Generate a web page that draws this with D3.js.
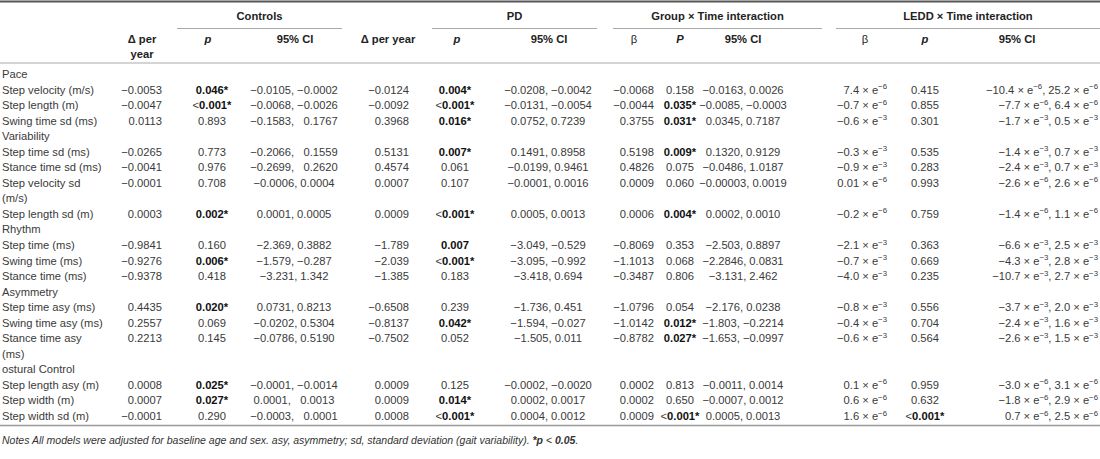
<!DOCTYPE html>
<html><head><meta charset="utf-8">
<script src="https://cdn.jsdelivr.net/npm/d3@7"></script>
<style>
body{margin:0;background:#fff}
svg text{white-space:pre;font-family:"Liberation Sans",Arial,Helvetica,sans-serif}
</style>
</head><body>
<svg id="chart" width="1100" height="459" xml:space="preserve"></svg>
<script>
// ---- data ----
const groupLabels = ["Controls","PD","Group × Time interaction","LEDD × Time interaction"];
const subHeaders = ["Δ per\nyear","p","95% CI","Δ per year","p","95% CI","β","P","95% CI","β","p","95% CI"];
const rowLabels = ["Pace","Step velocity (m/s)","Step length (m)","Swing time sd (ms)","Variability","Step time sd (ms)","Stance time sd (ms)","Step velocity sd\n(m/s)","Step length sd (m)","Rhythm","Step time (ms)","Swing time (ms)","Stance time (ms)","Asymmetry","Step time asy (ms)","Swing time asy (ms)","Stance time asy\n(ms)","ostural Control","Step length asy (m)","Step width (m)","Step width sd (m)"];
const ctrlDelta = [null,"−0.0053","−0.0047","0.0113",null,"−0.0265","−0.0041","−0.0001","0.0003",null,"−0.9841","−0.9276","−0.9378",null,"0.4435","0.2557","0.2213",null,"0.0008","0.0007","−0.0001"];
const ctrlP = [null,"!0.046*","<!0.001*","0.893",null,"0.773","0.976","0.708","!0.002*",null,"0.160","!0.006*","0.418",null,"!0.020*","0.069","0.145",null,"!0.025*","!0.027*","0.290"];
const ctrlCI = [null,"−0.0105, −0.0002","−0.0068, −0.0026","−0.1583,   0.1767",null,"−0.2066,   0.1559","−0.2699,   0.2620","−0.0006, 0.0004","0.0001, 0.0005",null,"−2.369, 0.3882","−1.579, −0.287","−3.231, 1.342",null,"0.0731, 0.8213","−0.0202, 0.5304","−0.0786, 0.5190",null,"−0.0001, −0.0014","0.0001,   0.0013","−0.0003,   0.0001"];
const pdDelta = [null,"−0.0124","−0.0092","0.3968",null,"0.5131","0.4574","0.0007","0.0009",null,"−1.789","−2.039","−1.385",null,"−0.6508","−0.8137","−0.7502",null,"0.0009","0.0009","0.0008"];
const pdP = [null,"!0.004*","<!0.001*","!0.016*",null,"!0.007*","0.061","0.107","<!0.001*",null,"!0.007","<!0.001*","0.183",null,"0.239","!0.042*","0.052",null,"0.125","!0.014*","<!0.001*"];
const pdCI = [null,"−0.0208, −0.0042","−0.0131, −0.0054","0.0752, 0.7239",null,"0.1491, 0.8958","−0.0199, 0.9461","−0.0001, 0.0016","0.0005, 0.0013",null,"−3.049, −0.529","−3.095, −0.992","−3.418, 0.694",null,"−1.736, 0.451","−1.594, −0.027","−1.505, 0.011",null,"−0.0002, −0.0020","0.0002, 0.0017","0.0004, 0.0012"];
const grpBeta = [null,"−0.0068","−0.0044","0.3755",null,"0.5198","0.4826","0.0009","0.0006",null,"−0.8069","−1.1013","−0.3487",null,"−1.0796","−1.0142","−0.8782",null,"0.0002","0.0002","0.0009"];
const grpP = [null,"0.158","!0.035*","!0.031*",null,"!0.009*","0.075","0.060","!0.004*",null,"0.353","0.068","0.806",null,"0.054","!0.012*","!0.027*",null,"0.813","0.650","<!0.001*"];
const grpCI = [null,"−0.0163, 0.0026","−0.0085, −0.0003","0.0345, 0.7187",null,"0.1320, 0.9129","−0.0486, 1.0187","−0.00003, 0.0019","0.0002, 0.0010",null,"−2.503, 0.8897","−2.2846, 0.0831","−3.131, 2.462",null,"−2.176, 0.0238","−1.803, −0.2214","−1.653, −0.0997",null,"−0.0011, 0.0014","−0.0007, 0.0012","0.0005, 0.0013"];
const leddBeta = [null,"7.4 × e^−6","−0.7 × e^−6","−0.6 × e^−3",null,"−0.3 × e^−3","−0.9 × e^−3","0.01 × e^−6","−0.2 × e^−6",null,"−2.1 × e^−3","−0.7 × e^−3","−4.0 × e^−3",null,"−0.8 × e^−3","−0.4 × e^−3","−0.6 × e^−3",null,"0.1 × e^−6","0.6 × e^−6","1.6 × e^−6"];
const leddP = [null,"0.415","0.855","0.301",null,"0.535","0.283","0.993","0.759",null,"0.363","0.669","0.235",null,"0.556","0.704","0.564",null,"0.959","0.632","<!0.001*"];
const leddCI = [null,"−10.4 × e^−6, 25.2 × e^−6","−7.7 × e^−6, 6.4 × e^−6","−1.7 × e^−3, 0.5 × e^−3",null,"−1.4 × e^−3, 0.7 × e^−3","−2.4 × e^−3, 0.7 × e^−3","−2.6 × e^−6, 2.6 × e^−6","−1.4 × e^−6, 1.1 × e^−6",null,"−6.6 × e^−3, 2.5 × e^−3","−4.3 × e^−3, 2.8 × e^−3","−10.7 × e^−3, 2.7 × e^−3",null,"−3.7 × e^−3, 2.0 × e^−3","−2.4 × e^−3, 1.6 × e^−3","−2.6 × e^−3, 1.5 × e^−3",null,"−3.0 × e^−6, 3.1 × e^−6","−1.8 × e^−6, 2.9 × e^−6","0.7 × e^−6, 2.5 × e^−6"];
const noteText = ["Notes All models were adjusted for baseline age and sex. asy, asymmetry; sd, standard deviation (gait variability). ","*p"," < ","0.05","."];

// ---- layout ----
const W = 1100, H = 459;
const FS = 11.2;
const svg = d3.select("#chart");
const columns = [
  {data: ctrlDelta, x: 162, anchor: "end", hx: 142},
  {data: ctrlP, x: 212, anchor: "middle", hx: 208},
  {data: ctrlCI, x: 294, anchor: "middle", hx: 295},
  {data: pdDelta, x: 409, anchor: "end", hx: 388},
  {data: pdP, x: 455, anchor: "middle", hx: 457},
  {data: pdCI, x: 548, anchor: "middle", hx: 549},
  {data: grpBeta, x: 654, anchor: "end", hx: 634},
  {data: grpP, x: 680, anchor: "middle", hx: 680},
  {data: grpCI, x: 743, anchor: "middle", hx: 743},
  {data: leddBeta, x: 887, anchor: "end", hx: 865},
  {data: leddP, x: 925, anchor: "middle", hx: 925},
  {data: leddCI, x: 1098, anchor: "end", hx: 1017}
];
const groupSpans = [[177,342],[432,597],[613,822],[836,1100]];

// line index for each row
const lineStart = [];
let acc = 0;
rowLabels.forEach(l => { lineStart.push(acc); acc += l.split("\n").length; });
const nLines = acc;
const y = d3.scaleLinear().domain([0, nLines - 1]).range([74, 416]);
const base = v => y(v) + 4;

// rules
svg.append("line").attr("x1",0).attr("x2",W).attr("y1",1.5).attr("y2",1.5).attr("stroke","#555").attr("stroke-width",2);
svg.append("line").attr("x1",0).attr("x2",W).attr("y1",63).attr("y2",63).attr("stroke","#aaa").attr("stroke-width",1);
svg.append("line").attr("x1",0).attr("x2",W).attr("y1",425.5).attr("y2",425.5).attr("stroke","#999").attr("stroke-width",1.5);

// group headers
groupLabels.forEach((g,i) => {
  const [a,b] = groupSpans[i];
  svg.append("text").attr("x",(a+b)/2).attr("y",20).attr("text-anchor","middle")
    .attr("font-size",FS).attr("font-weight",700).attr("fill","#222").text(g);
  svg.append("line").attr("x1",a).attr("x2",b).attr("y1",28.5).attr("y2",28.5).attr("stroke","#aaa").attr("stroke-width",1);
});

// sub headers
subHeaders.forEach((h,i) => {
  const c = columns[i];
  const isP = (h === "p" || h === "P");
  const t = svg.append("text").attr("x",c.hx).attr("y",43).attr("text-anchor","middle")
    .attr("font-size",FS).attr("fill","#222")
    .attr("font-weight", h === "β" ? 400 : 700)
    .attr("font-style", isP ? "italic" : null);
  h.split("\n").forEach((ln,k) => {
    t.append("tspan").attr("x",c.hx).attr("dy", k ? 15 : 0).text(ln);
  });
});

// cell renderer
function renderCell(t, s){
  let lt = false, bold = false;
  if (s.startsWith("<")) { lt = true; s = s.slice(1); }
  if (s.startsWith("!")) { bold = true; s = s.slice(1); }
  if (lt) t.append("tspan").text("<");
  const parts = s.split(/\^([−-]?\d+)/);
  let pending = 0;
  parts.forEach((p,i) => {
    if (i % 2 === 0) {
      if (!p) return;
      const ts = t.append("tspan").text(p);
      if (bold) ts.attr("font-weight",700).attr("fill","#111");
      if (pending) { ts.attr("dy", pending); pending = 0; }
    } else {
      t.append("tspan").attr("dy",-4.5).attr("font-size",7.8).text(p);
      pending = 4.5;
    }
  });
}

// body
const body = svg.append("g").attr("font-size",FS).attr("fill","#3a3a3a");
rowLabels.forEach((lab,r) => {
  const l0 = lineStart[r];
  lab.split("\n").forEach((ln,k) => {
    body.append("text").attr("x",2).attr("y",base(l0 + k)).text(ln);
  });
  columns.forEach(c => {
    const v = c.data[r];
    if (v == null) return;
    const t = body.append("text").attr("x",c.x).attr("y",base(l0)).attr("text-anchor",c.anchor);
    renderCell(t, v);
  });
});

// notes
const note = svg.append("text").attr("x",2).attr("y",444).attr("font-size",10.5)
  .attr("font-style","italic").attr("fill","#333");
noteText.forEach((s,i) => {
  note.append("tspan").attr("font-weight", (i===1||i===3) ? 700 : 400)
    .attr("font-style", i===2 ? "normal" : "italic").text(s);
});
</script>
</body></html>
